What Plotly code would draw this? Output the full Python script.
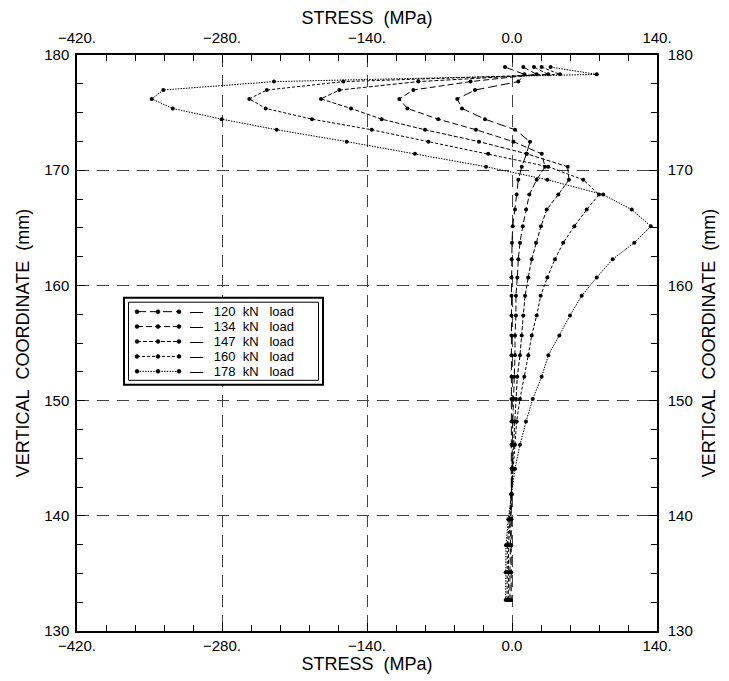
import plotly.graph_objects as go

# vertical coordinate nodes (mm), shared by all load cases
y_mm = [178.95, 178.32, 177.69, 176.96, 176.19, 175.36, 174.43, 173.51, 172.48, 171.42,
        170.30, 169.17, 167.88, 166.58, 165.14, 163.71, 162.27, 160.69, 159.10, 157.38,
        155.65, 153.93, 152.06, 150.13, 148.18, 146.16, 144.09, 141.88, 139.69, 137.45,
        135.09, 132.70]

# stress (MPa) for each load case
s120 = [-6.8, 12.0, 6.1, -35.7, -52.8, -48.3, -26.1, 2.9, 17.4, 14.0,
        9.4, 6.1, 4.5, 2.9, 0.7, 0.0, -0.3, -0.5, -0.5, -0.5,
        -0.5, -0.5, -0.5, -0.5, -0.5, -0.5, -0.5, -0.3, -0.5, -0.8,
        -0.8, -0.8]
s134 = [10.9, 23.8, -40.0, -95.3, -108.8, -101.0, -71.2, -34.8, 1.3, 28.7,
        31.9, 23.8, 16.7, 13.6, 10.4, 7.7, 6.1, 5.1, 3.8, 3.8,
        2.9, 2.9, 1.9, 1.5, 0.8, 0.3, 0.0, -0.5, -1.2, -2.0,
        -2.0, -2.0]
s147 = [21.2, 35.0, -90.5, -166.7, -184.4, -155.4, -125.8, -84.0, -31.9, 14.2,
        53.8, 55.0, 44.7, 33.5, 28.0, 23.2, 19.0, 15.7, 12.6, 10.9,
        9.4, 7.7, 5.1, 3.8, 2.5, 1.5, 0.5, -0.5, -1.8, -3.2,
        -3.5, -3.5]
s160 = [28.6, 46.3, -162.9, -236.8, -253.6, -237.8, -193.1, -135.5, -80.8, -22.9,
        35.0, 68.8, 84.0, 72.1, 60.2, 49.5, 41.5, 34.1, 27.7, 23.8,
        19.0, 15.7, 11.9, 7.7, 4.5, 2.9, 1.5, -0.8, -2.5, -4.5,
        -4.8, -4.8]
s178 = [37.3, 81.8, -229.8, -336.7, -347.9, -327.6, -280.3, -227.2, -159.6, -93.7,
        -25.1, 34.1, 88.0, 115.6, 134.0, 118.1, 97.2, 81.8, 67.3, 56.0,
        45.7, 35.1, 28.6, 20.0, 13.5, 7.7, 2.9, -0.3, -3.6, -5.8,
        -6.1, -6.1]

loads = ["120", "134", "147", "160", "178"]
series = [s120, s134, s147, s160, s178]
dashes = ["9px,4px", "6px,3px", "4px,2px", "3px,2px", "1.5px,1.2px"]

x_tickvals = [-420, -280, -140, 0, 140]
x_ticktext = ["\u2212420.", "\u2212280.", "\u2212140.", "0.0", "140."]
y_tickvals = [130, 140, 150, 160, 170, 180]
y_ticktext = ["130", "140", "150", "160", "170", "180"]

FONT = "Liberation Sans, Arial, sans-serif"
NB = "\u00a0"

# plot-area geometry in pixels (for paper conversions)
W, H = 729, 681
L, R, T, B = 77, 72, 55, 47
PW, PH = W - L - R, H - T - B


def px_x(px):
    return (px - L) / PW


def px_y(py):
    return (H - B - py) / PH


fig = go.Figure()
for ld, vals, dsh in zip(loads, series, dashes):
    fig.add_trace(go.Scatter(
        x=vals, y=y_mm, mode="lines+markers",
        line=dict(color="black", width=1, dash=dsh),
        marker=dict(size=4, color="black"),
        name=f"{ld} kN load", showlegend=False,
    ))

# dummy trace to activate the top/right axes
fig.add_trace(go.Scatter(x=[None], y=[None], xaxis="x2", yaxis="y2",
                         showlegend=False, hoverinfo="skip"))

axis_common = dict(
    showline=True, linecolor="black", linewidth=1.5,
    ticks="inside", ticklen=8, tickwidth=1.2, tickcolor="black",
    tickfont=dict(family=FONT, size=15, color="black"),
    zeroline=False,
)
minor_x = dict(tickmode="array", tickvals=list(range(-420, 141, 28)),
               ticks="inside", ticklen=6, tickcolor="black", showgrid=False)
minor_y = dict(tickmode="array", tickvals=[130 + 2.5 * i for i in range(21)],
               ticks="inside", ticklen=6, tickcolor="black", showgrid=False)

fig.update_layout(
    width=W, height=H,
    margin=dict(l=L, r=R, t=T, b=B),
    paper_bgcolor="white", plot_bgcolor="white",
    font=dict(family=FONT, color="black"),
    showlegend=False,
    xaxis=dict(
        range=[-420, 140], tickmode="array", tickvals=x_tickvals, ticktext=x_ticktext,
        showgrid=True, gridcolor="#444444", gridwidth=1.3, griddash="12px,8px",
        minor=minor_x,
        title=dict(text=f"STRESS{NB}{NB}(MPa)", font=dict(family=FONT, size=18), standoff=3),
        **axis_common,
    ),
    xaxis2=dict(
        range=[-420, 140], overlaying="x", side="top", anchor="y2",
        tickmode="array", tickvals=x_tickvals, ticktext=x_ticktext, showgrid=False,
        minor=minor_x, ticklabelstandoff=4,
        title=dict(text=f"STRESS{NB}{NB}(MPa)", font=dict(family=FONT, size=18), standoff=0),
        **axis_common,
    ),
    yaxis=dict(
        range=[130, 180], tickmode="array", tickvals=y_tickvals, ticktext=y_ticktext,
        showgrid=True, gridcolor="#444444", gridwidth=1.3, griddash="12px,8px",
        minor=minor_y, ticklabelstandoff=3,
        title=dict(text=f"VERTICAL{NB}{NB}COORDINATE{NB}{NB}(mm)", font=dict(family=FONT, size=18), standoff=10),
        **axis_common,
    ),
    yaxis2=dict(
        range=[130, 180], overlaying="y", side="right", anchor="x2",
        tickmode="array", tickvals=y_tickvals, ticktext=y_ticktext, showgrid=False,
        minor=minor_y, ticklabelstandoff=6,
        title=dict(text=f"VERTICAL{NB}{NB}COORDINATE{NB}{NB}(mm)", font=dict(family=FONT, size=18), standoff=11),
        **axis_common,
    ),
)

# ---- hand-made legend (double frame, samples, labels) ----
box_outer = (124, 323, 299, 386.5)
box_inner = (128.5, 318.5, 303.5, 382)
row0_py, row_step = 313, 15
sample_x0, sample_x1 = 137, 179
sample_marks = [137, 158, 179]

fig.add_shape(type="rect", xref="paper", yref="paper",
              x0=px_x(box_outer[0]), x1=px_x(box_outer[1]),
              y0=px_y(box_outer[3]), y1=px_y(box_outer[2]),
              line=dict(color="black", width=2), fillcolor="white", layer="above")
fig.add_shape(type="rect", xref="paper", yref="paper",
              x0=px_x(box_inner[0]), x1=px_x(box_inner[1]),
              y0=px_y(box_inner[3]), y1=px_y(box_inner[2]),
              line=dict(color="black", width=1), layer="above")

for i, (ld, dsh) in enumerate(zip(loads, dashes)):
    py = row0_py + i * row_step
    fig.add_shape(type="line", xref="paper", yref="paper",
                  x0=px_x(sample_x0), x1=px_x(sample_x1), y0=px_y(py), y1=px_y(py),
                  line=dict(color="black", width=1, dash=dsh), layer="above")
    for mx in sample_marks:
        fig.add_shape(type="circle", xref="paper", yref="paper",
                      x0=px_x(mx - 2), x1=px_x(mx + 2), y0=px_y(py + 2), y1=px_y(py - 2),
                      line=dict(color="black", width=0.5), fillcolor="black", layer="above")
    fig.add_annotation(
        x=px_x(189), xref="paper", y=px_y(py), yref="paper",
        text=f"\u2014{NB}{NB}{NB}{ld}{NB}{NB}kN{NB}{NB}{NB}load",
        showarrow=False, xanchor="left", yanchor="middle", borderpad=0,
        font=dict(family=FONT, size=13, color="black"),
    )

fig.write_html("out.html")
